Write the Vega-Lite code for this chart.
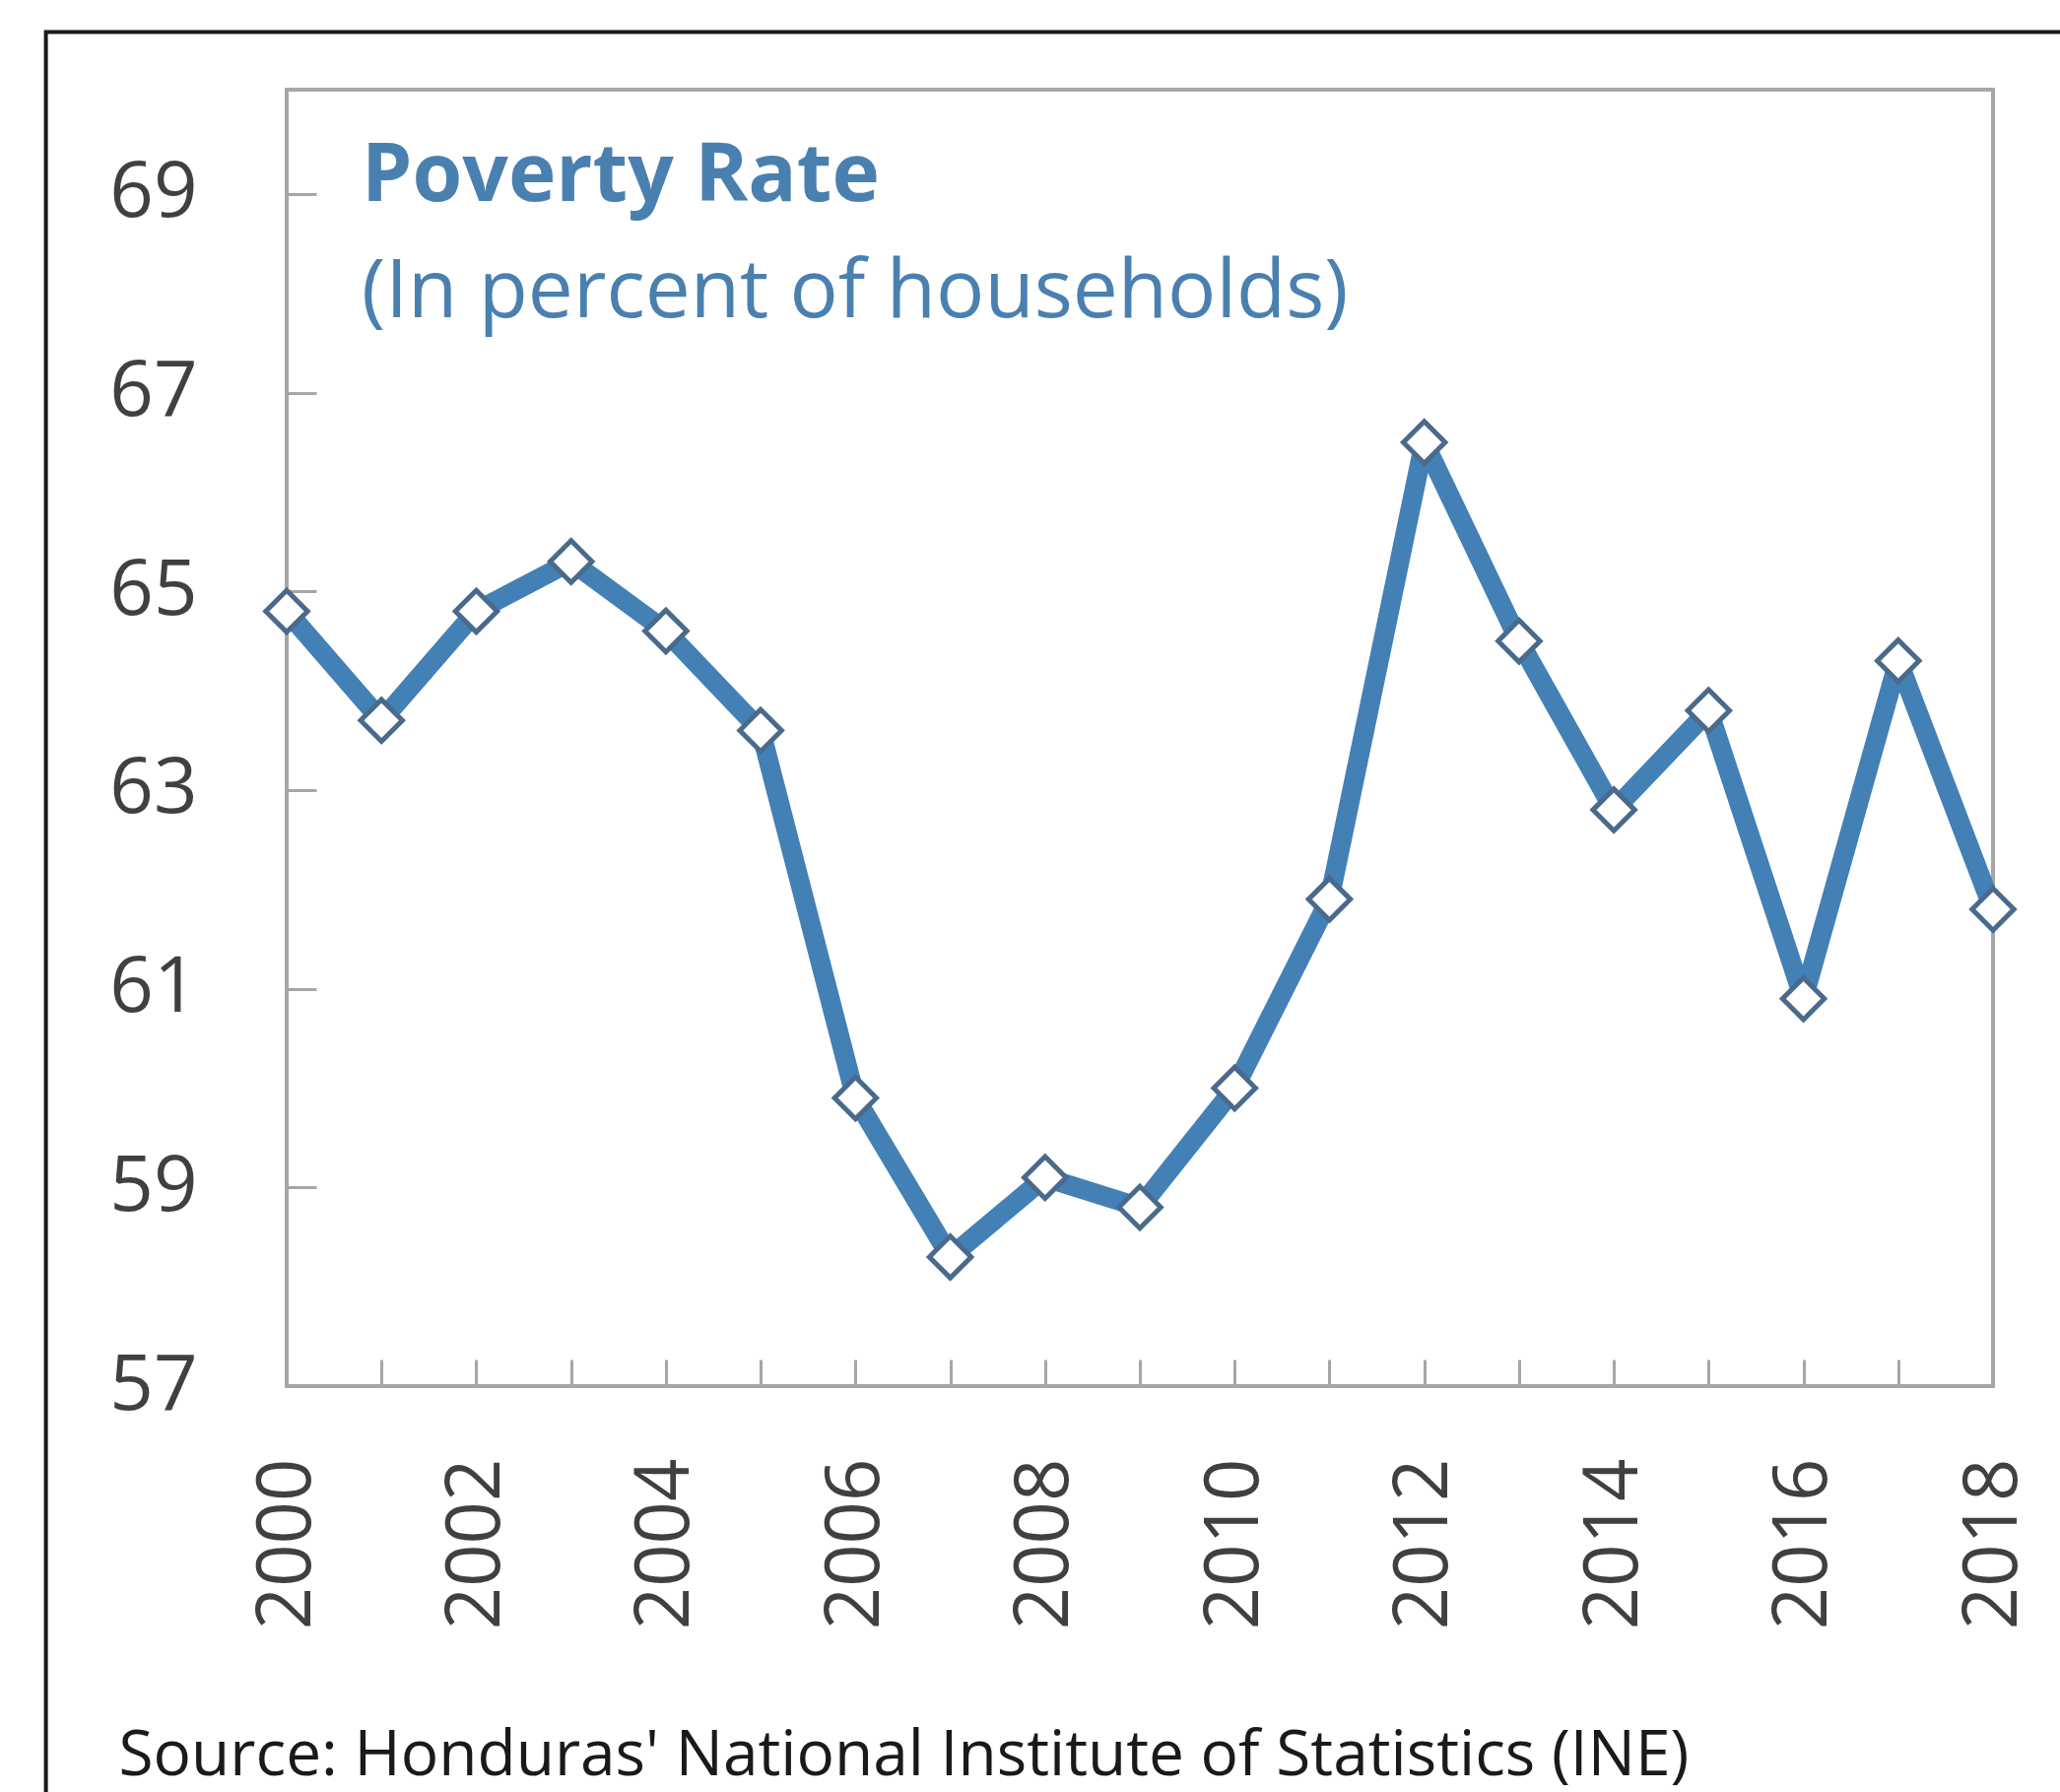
{
  "$schema": "https://vega.github.io/schema/vega-lite/v6.json",
  "autosize": "none",
  "width": 1732,
  "height": 1316,
  "padding": {"left": 291, "top": 91, "right": 68, "bottom": 412},
  "background": "white",
  "title": {
    "text": "Poverty Rate",
    "subtitle": "(In percent of households)",
    "anchor": "start",
    "frame": "group",
    "orient": "top",
    "offset": -308,
    "dx": 76,
    "font": "Open Sans",
    "fontSize": 82,
    "fontWeight": "bold",
    "color": "#4a80b0",
    "subtitleFont": "Open Sans",
    "subtitleFontSize": 82,
    "subtitleColor": "#4a80b0",
    "subtitlePadding": 36
  },
  "config": {"view": {"stroke": "#a6a6a6", "strokeWidth": 4}},
  "datasets": {
    "poverty": [
      {"year": 2000, "rate": 64.8},
      {"year": 2001, "rate": 63.7},
      {"year": 2002, "rate": 64.8},
      {"year": 2003, "rate": 65.3},
      {"year": 2004, "rate": 64.6},
      {"year": 2005, "rate": 63.6},
      {"year": 2006, "rate": 59.9},
      {"year": 2007, "rate": 58.3},
      {"year": 2008, "rate": 59.1},
      {"year": 2009, "rate": 58.8},
      {"year": 2010, "rate": 60.0},
      {"year": 2011, "rate": 61.9},
      {"year": 2012, "rate": 66.5},
      {"year": 2013, "rate": 64.5},
      {"year": 2014, "rate": 62.8},
      {"year": 2015, "rate": 63.8},
      {"year": 2016, "rate": 60.9},
      {"year": 2017, "rate": 64.3},
      {"year": 2018, "rate": 61.8}
    ],
    "frame": [
      {"x0": 1997.46, "x1": 2019.5, "y0": 70.63, "y1": 52.6}
    ]
  },
  "layer": [
    {
      "data": {"name": "frame"},
      "mark": {"type": "rect", "filled": false, "stroke": "#1a1a1a", "strokeWidth": 4, "clip": false},
      "encoding": {
        "x": {"field": "x0", "type": "quantitative"},
        "x2": {"field": "x1"},
        "y": {"field": "y0", "type": "quantitative"},
        "y2": {"field": "y1"}
      }
    },
    {
      "data": {"name": "poverty"},
      "mark": {"type": "line", "color": "#4380b6", "strokeWidth": 20, "strokeJoin": "round"},
      "encoding": {
        "x": {
          "field": "year",
          "type": "quantitative",
          "scale": {"domain": [2000, 2018], "nice": false, "zero": false},
          "axis": {
            "values": [2000, 2001, 2002, 2003, 2004, 2005, 2006, 2007, 2008, 2009, 2010, 2011, 2012, 2013, 2014, 2015, 2016, 2017, 2018],
            "format": "d",
            "labelExpr": "datum.value % 2 == 0 ? datum.label : ''",
            "labelAngle": -90,
            "labelAlign": "right",
            "labelBaseline": "middle",
            "labelFont": "Open Sans",
            "labelFontSize": 76,
            "labelColor": "#404040",
            "labelPadding": 100,
            "labelOverlap": false,
            "tickColor": "#a6a6a6",
            "tickWidth": 3,
            "tickSize": -27,
            "domain": false,
            "grid": false,
            "title": "Source: Honduras' National Institute of Statistics (INE)",
            "titleFont": "Open Sans",
            "titleFontSize": 64,
            "titleFontWeight": "normal",
            "titleColor": "#1a1a1a",
            "titleAlign": "left",
            "titleBaseline": "alphabetic",
            "titleAnchor": "start",
            "titleX": -171,
            "titleY": 394
          }
        },
        "y": {
          "field": "rate",
          "type": "quantitative",
          "scale": {"domain": [57, 70.05], "nice": false, "zero": false},
          "axis": {
            "values": [57, 59, 61, 63, 65, 67, 69],
            "format": "d",
            "labelFont": "Open Sans",
            "labelFontSize": 78,
            "labelColor": "#404040",
            "labelPadding": 121,
            "tickColor": "#a6a6a6",
            "tickWidth": 3,
            "tickSize": -30,
            "domain": false,
            "grid": false,
            "title": null
          }
        }
      }
    },
    {
      "data": {"name": "poverty"},
      "mark": {"type": "point", "shape": "diamond", "filled": true, "fill": "white", "stroke": "#4a6a8c", "strokeWidth": 5, "size": 1800, "opacity": 1},
      "encoding": {
        "x": {"field": "year", "type": "quantitative"},
        "y": {"field": "rate", "type": "quantitative"}
      }
    }
  ]
}
